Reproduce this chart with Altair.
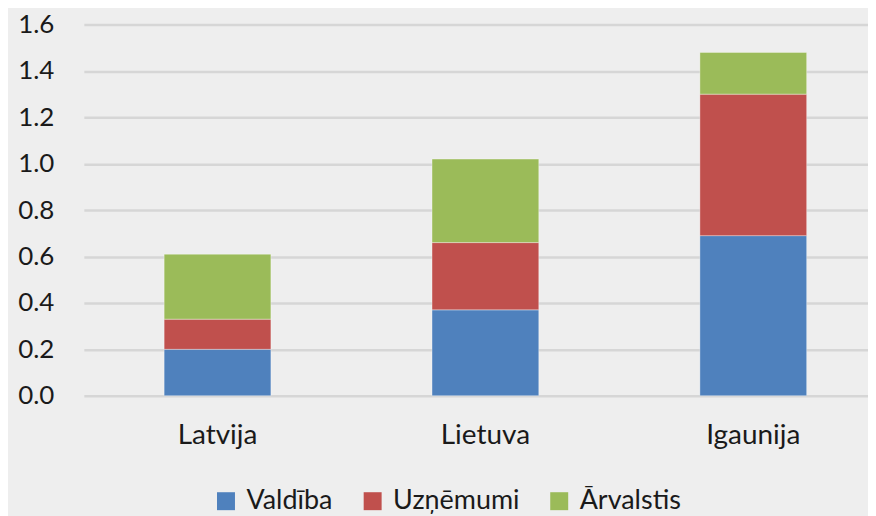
import altair as alt
import pandas as pd

countries = ["Latvija", "Lietuva", "Igaunija"]
series = ["Valdība", "Uzņēmumi", "Ārvalstis"]
valdiba = [0.20, 0.37, 0.69]
uznemumi = [0.13, 0.29, 0.61]
arvalstis = [0.28, 0.36, 0.18]
colors = ["#4F81BD", "#C0504D", "#9BBB59"]

rows = []
for i, c in enumerate(countries):
    for j, (s, vals) in enumerate(zip(series, [valdiba, uznemumi, arvalstis])):
        rows.append({"country": c, "series": s, "value": vals[i], "order": j})
df = pd.DataFrame(rows)

FONT = "Lato"

chart = alt.Chart(df).mark_bar(stroke="#ffffff", strokeOpacity=0.35, strokeWidth=1).encode(
    x=alt.X("country:N", sort=countries, title=None,
            scale=alt.Scale(paddingInner=0.6015, paddingOuter=0.2644, align=0.567),
            axis=alt.Axis(labelAngle=0, labelFontSize=28, labelFont=FONT, labelColor="#1a1a1a",
                          labelPadding=26, ticks=False, domain=False, grid=False)),
    y=alt.Y("value:Q", stack="zero", title=None,
            scale=alt.Scale(domain=[0, 1.6], nice=False),
            axis=alt.Axis(values=[0, 0.2, 0.4, 0.6, 0.8, 1.0, 1.2, 1.4, 1.6], format=".1f",
                          labelFontSize=26, labelFont=FONT, labelColor="#1a1a1a",
                          labelPadding=30, ticks=False, domain=False,
                          gridColor="#d6d6d6", gridWidth=2.5)),
    color=alt.Color("series:N", sort=series,
                    scale=alt.Scale(domain=series, range=colors),
                    legend=alt.Legend(title=None, orient="none", direction="horizontal",
                                      legendX=129, legendY=464,
                                      symbolType="square", symbolSize=324,
                                      symbolStrokeWidth=0, symbolOpacity=1,
                                      labelFontSize=27, labelFont=FONT, labelColor="#1a1a1a",
                                      labelOffset=7, columnPadding=26)),
    order=alt.Order("order:Q", sort="ascending"),
).properties(
    width=786,
    height=372,
    background="#eeeeee",
    padding={"left": 76, "top": 16, "right": 0, "bottom": 120},
    autosize=alt.AutoSizeParams(type="none"),
).configure_view(stroke=None)

chart.save("out.html", embed_options={"renderer": "svg", "actions": False})
